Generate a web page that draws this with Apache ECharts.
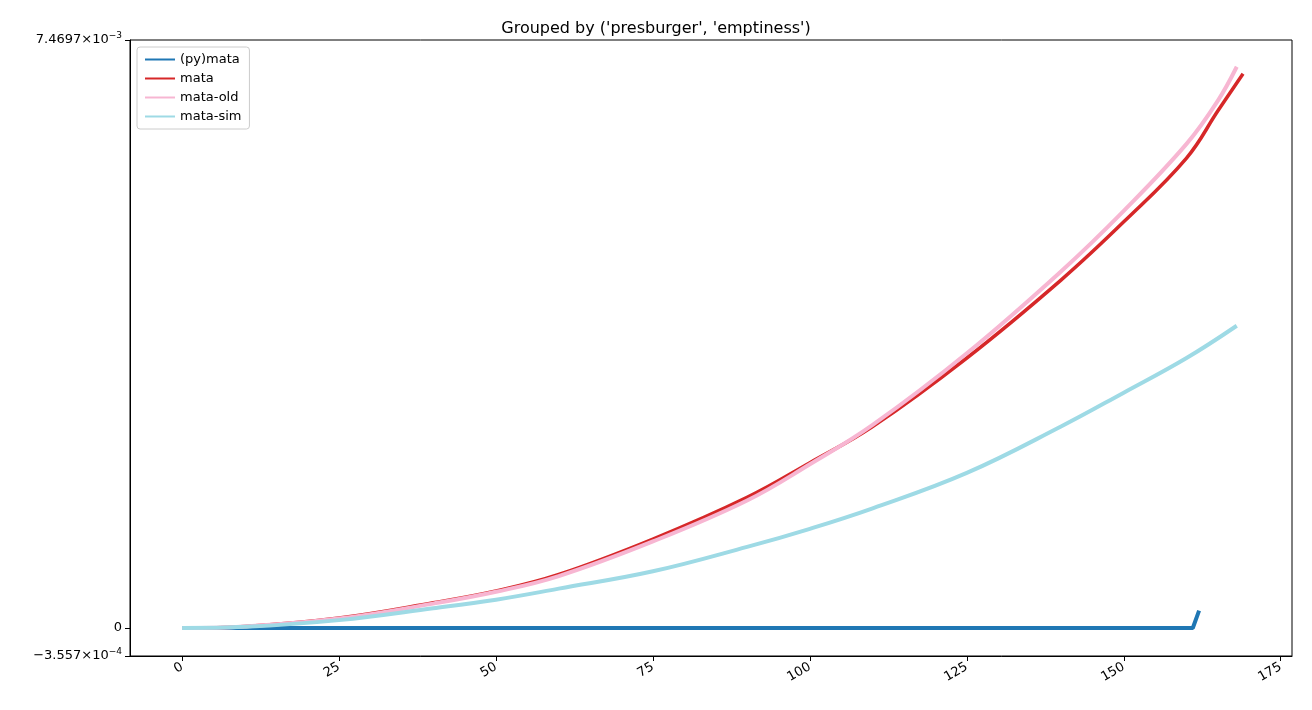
<!DOCTYPE html><html><head><meta charset="utf-8"><script src="https://cdn.jsdelivr.net/npm/echarts@6/dist/echarts.min.js"></script></head><body style="margin:0"><div id="c" style="width:1312px;height:710px"></div><script>
const xTicks=[0,25,50,75,100,125,150,175];
const yTicks=[-3.557e-4,0,7.4697e-3];
const pymataX=[0,20,40,60,80,100,120,140,161,162];
const pymataY=[0,0,0,0,0,0,0,0,0,0.22e-3];
const mataX=[0,10,25,40,50,60,75,90,100,110,125,140,150,160,165,169];
const mataY=[0,0.02e-3,0.127e-3,0.32e-3,0.47e-3,0.68e-3,1.13e-3,1.66e-3,2.10e-3,2.56e-3,3.43e-3,4.42e-3,5.16e-3,5.97e-3,6.57e-3,7.04e-3];
const oldX=[0,10,25,40,50,60,75,90,100,110,125,140,150,160,165,168];
const oldY=[0,0.02e-3,0.12e-3,0.31e-3,0.46e-3,0.66e-3,1.10e-3,1.62e-3,2.08e-3,2.58e-3,3.49e-3,4.53e-3,5.30e-3,6.15e-3,6.70e-3,7.13e-3];
const simX=[0,10,25,40,50,60,75,90,100,110,125,140,150,160,168];
const simY=[0,0.015e-3,0.10e-3,0.25e-3,0.36e-3,0.50e-3,0.72e-3,1.03e-3,1.26e-3,1.52e-3,1.97e-3,2.56e-3,2.99e-3,3.43e-3,3.84e-3];
const z=(a,b)=>a.map((v,i)=>[v,b[i]]);
const fmt=v=>v===0?'0':(Math.abs(v-7.4697e-3)<1e-9?'{n|7.4697\u00d710}{s|\u22123}':'{n|\u22123.557\u00d710}{s|\u22124}');
const mk=(name,data,color,w,sm)=>({name,type:'line',data,smooth:sm,showSymbol:false,symbol:'none',lineStyle:{color,width:w},itemStyle:{color}});
const ch=echarts.init(document.getElementById('c'));
ch.setOption({animation:false,
title:{text:"Grouped by ('presburger', 'emptiness')",left:'center',top:16,textStyle:{fontSize:16,fontWeight:'normal',fontFamily:'DejaVu Sans',color:'#000'}},
legend:{left:137,top:47,orient:'vertical',itemGap:6,itemWidth:30,itemHeight:2,borderColor:'#ccc',borderWidth:1,borderRadius:3,padding:[6,8],backgroundColor:'#fff',textStyle:{fontSize:13,fontFamily:'DejaVu Sans',color:'#000'},icon:'rect'},
grid:{left:130,right:20,top:40,bottom:54,show:true,borderColor:'#000',borderWidth:1,backgroundColor:'transparent'},
xAxis:{type:'value',min:-8.3,max:176.8,axisLine:{onZero:false,lineStyle:{color:'#000'}},splitLine:{show:false},
axisTick:{customValues:xTicks,lineStyle:{color:'#000'}},axisLabel:{customValues:xTicks,rotate:30,color:'#000',fontSize:13,fontFamily:'DejaVu Sans',margin:10}},
yAxis:{type:'value',min:-3.557e-4,max:7.4697e-3,axisLine:{show:true,onZero:false,lineStyle:{color:'#000'}},splitLine:{show:false},
axisTick:{show:true,customValues:yTicks,lineStyle:{color:'#000'}},axisLabel:{customValues:yTicks,formatter:fmt,color:'#000',fontSize:13,fontFamily:'DejaVu Sans',rich:{n:{fontSize:13,fontFamily:'DejaVu Sans'},s:{fontSize:9,verticalAlign:'top',padding:[0,0,8,0]}}}},
series:[mk('(py)mata',z(pymataX,pymataY),'#1f77b4',4,false),mk('mata',z(mataX,mataY),'#d62728',3.5,0.4),mk('mata-old',z(oldX,oldY),'#f7b6d2',4,0.4),mk('mata-sim',z(simX,simY),'#9edae5',4,0.4)]
});
</script></body></html>
